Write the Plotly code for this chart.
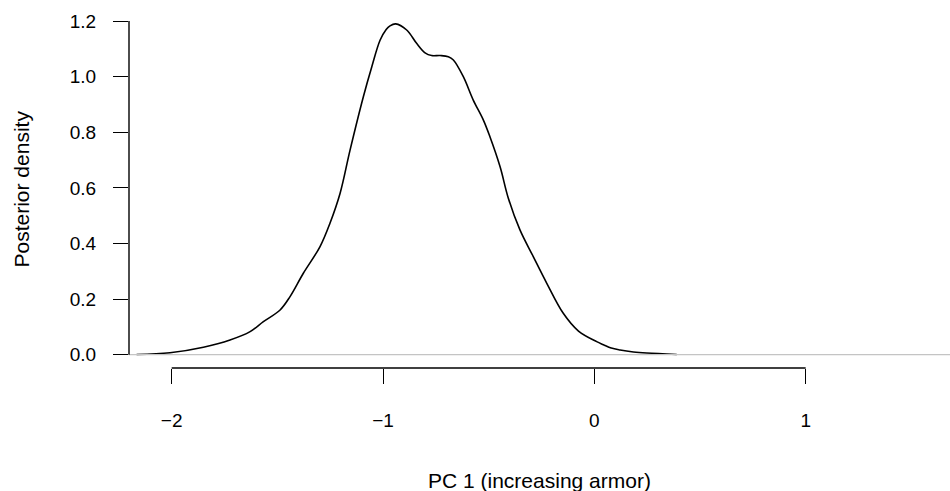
import plotly.graph_objects as go

# Posterior density of PC 1 (kernel density estimate, read at selected points)
pc1 = [-2.166, -2.008, -1.850, -1.724, -1.629, -1.566, -1.487, -1.440, -1.377,
       -1.298, -1.251, -1.203, -1.156, -1.093, -1.053, -1.014, -0.985, -0.967,
       -0.940, -0.888, -0.841, -0.801, -0.770, -0.730, -0.691, -0.667, -0.620,
       -0.573, -0.525, -0.494, -0.446, -0.407, -0.352, -0.289, -0.225, -0.147,
       -0.075, 0.011, 0.043, 0.080, 0.122, 0.185, 0.248, 0.390]
density = [0.001, 0.007, 0.027, 0.053, 0.083, 0.119, 0.161, 0.209, 0.293,
           0.389, 0.473, 0.581, 0.736, 0.928, 1.036, 1.131, 1.170, 1.183,
           1.190, 1.168, 1.120, 1.086, 1.076, 1.076, 1.072, 1.060, 1.000,
           0.916, 0.844, 0.784, 0.676, 0.563, 0.449, 0.353, 0.257, 0.149,
           0.085, 0.047, 0.036, 0.024, 0.017, 0.010, 0.006, 0.001]

x_ticks = [-2, -1, 0, 1]
y_ticks = [0.0, 0.2, 0.4, 0.6, 0.8, 1.0, 1.2]
x_title = "PC 1 (increasing armor)"
y_title = "Posterior density"

W, H = 950, 491
ML, MR, MT, MB = 129, 0, 11, 123
x_range = [-2.202, 1.683]
y_range = [-0.0478, 1.2363]

FONT = "Liberation Sans, Arial, sans-serif"

fig = go.Figure()
fig.add_trace(go.Scatter(
    x=pc1, y=density, mode="lines",
    line=dict(color="black", width=1.6, shape="spline", smoothing=1.0),
    hoverinfo="skip", showlegend=False,
))

# horizontal reference line at zero
fig.add_shape(type="line", xref="paper", yref="y", x0=0, x1=1, y0=0, y1=0,
              line=dict(color="#c4c4c4", width=1.2), layer="above")
# axis lines spanning first to last tick only
fig.add_shape(type="line", xref="x", yref="paper", x0=x_ticks[0], x1=x_ticks[-1],
              y0=0, y1=0, line=dict(color="black", width=1.4))
fig.add_shape(type="line", xref="paper", yref="y", x0=0, x1=0,
              y0=y_ticks[0], y1=y_ticks[-1], line=dict(color="black", width=1.4))

fig.update_xaxes(
    range=x_range, tickmode="array", tickvals=x_ticks,
    ticks="outside", ticklen=15, tickwidth=1.4, tickcolor="black",
    showgrid=False, zeroline=False, showline=False,
    tickfont=dict(family=FONT, size=19, color="black"),
    ticklabelstandoff=20,
)
fig.update_yaxes(
    range=y_range, tickmode="array", tickvals=y_ticks, tickformat=".1f",
    ticks="outside", ticklen=15, tickwidth=1.4, tickcolor="black",
    showgrid=False, zeroline=False, showline=False,
    tickfont=dict(family=FONT, size=19, color="black"),
    ticklabelstandoff=13,
)

plot_w = W - ML - MR
plot_h = H - MT - MB
fig.add_annotation(text=x_title, xref="paper", yref="paper",
                   x=0.5, y=(H - MB - 480) / plot_h,
                   xanchor="center", yanchor="middle", showarrow=False,
                   font=dict(family=FONT, size=21, color="black"))
fig.add_annotation(text=y_title, xref="paper", yref="paper",
                   x=(21 - ML) / plot_w, y=0.5, textangle=-90,
                   xanchor="center", yanchor="middle", showarrow=False,
                   font=dict(family=FONT, size=21, color="black"))

fig.update_layout(
    width=W, height=H,
    margin=dict(l=ML, r=MR, t=MT, b=MB, pad=0),
    paper_bgcolor="white", plot_bgcolor="white",
    font=dict(family=FONT, color="black"),
)

fig.write_html("out.html")
